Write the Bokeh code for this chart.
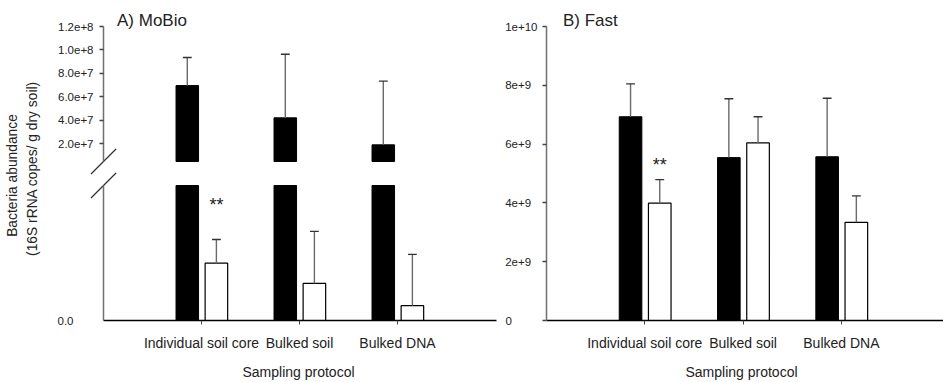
import math
from bokeh.plotting import figure
from bokeh.models import Range1d, FixedTicker, LinearAxis
from bokeh.layouts import row
from bokeh.embed import file_html
from bokeh.resources import INLINE
from bokeh.core.properties import value

# ---------------- data ----------------
categories = ["Individual soil core", "Bulked soil", "Bulked DNA"]

# A) MoBio (broken axis)
mobio_black = [6.97e7, 4.22e7, 1.92e7]
mobio_black_err = [2.39e7, 5.42e7, 5.43e7]
mobio_white = [1.70e6, 1.10e6, 0.44e6]
mobio_white_err = [0.70e6, 1.54e6, 1.52e6]
mobio_upper_ticks = [2e7, 4e7, 6e7, 8e7, 1e8, 1.2e8]
mobio_upper_labels = ["2.0e+7", "4.0e+7", "6.0e+7", "8.0e+7", "1.0e+8", "1.2e+8"]
mobio_lower_ticks = [0]
mobio_lower_labels = ["0.0"]
mobio_upper_range = (5e6, 1.2e8)   # segment above the break
mobio_lower_range = (0, 4e6)       # segment below the break

# B) Fast
fast_black = [6.93e9, 5.54e9, 5.57e9]
fast_black_err = [1.12e9, 2.00e9, 1.99e9]
fast_white = [3.99e9, 6.04e9, 3.34e9]
fast_white_err = [0.80e9, 0.89e9, 0.90e9]
fast_ticks = [0, 2e9, 4e9, 6e9, 8e9, 1e10]
fast_labels = ["0", "2e+9", "4e+9", "6e+9", "8e+9", "1e+10"]
fast_range = (0, 1e10)

significant = [True, False, False]  # "**" over the white bar

y_title = ["Bacteria abundance", "(16S rRNA copes/ g dry soil)"]
x_title = "Sampling protocol"
titles = ["A) MoBio", "B) Fast"]

# ---------------- styling ----------------
FONT = "Liberation Sans"
TXT = "#222222"
NB = "\u00a0"
OFF_BLACK, OFF_WHITE, BAR_W, CAP_W = -0.145, 0.152, 0.23, 0.09
idx = list(range(1, len(categories) + 1))
xb = [i + OFF_BLACK for i in idx]
xw = [i + OFF_WHITE for i in idx]
H = 382
TOP_PX, BASE_PX = 26, 320      # y of the axis top and of the baseline
XT_MID_PX = 371                # vertical middle of the x-axis title
TXT_KW = dict(text_font=value(FONT), text_color=TXT)


def style_y(ax, ticks, labels, standoff, tick_out=4):
    ax.ticker = FixedTicker(ticks=ticks, minor_ticks=[])
    ax.major_label_overrides = {t: l for t, l in zip(ticks, labels)}
    ax.axis_line_color = "#707070"
    ax.axis_line_width = 1.5
    ax.major_tick_line_color = "#444444"
    ax.major_tick_line_width = 1.3
    ax.major_tick_out = tick_out
    ax.major_tick_in = 0
    ax.minor_tick_line_color = None
    ax.major_label_standoff = standoff
    ax.major_label_text_font = FONT
    ax.major_label_text_font_size = "11.5px"
    ax.major_label_text_color = TXT


def style_x(ax):
    ax.ticker = FixedTicker(ticks=idx, minor_ticks=[])
    ax.major_label_overrides = {i: c for i, c in zip(idx, categories)}
    ax.axis_line_color = "black"
    ax.axis_line_width = 1.3
    ax.major_tick_line_color = "#444444"
    ax.major_tick_out = 4
    ax.major_tick_in = 0
    ax.minor_tick_line_color = None
    ax.major_label_standoff = 10
    ax.major_label_text_font = FONT
    ax.major_label_text_font_size = "14px"
    ax.major_label_text_color = TXT


def make_fig(width, xr, yr):
    p = figure(width=width, height=H, x_range=xr, y_range=yr,
               x_axis_location=None, y_axis_location=None, min_border=0,
               output_backend="svg", toolbar_location=None)
    p.grid.visible = False
    p.outline_line_color = None
    p.background_fill_color = "white"
    p.border_fill_color = "white"
    return p


def bars(p, xs, tops, bottom=0, white=False, rng="default"):
    if white:
        p.vbar(x=xs, width=BAR_W, top=tops, bottom=bottom, fill_color="white",
               line_color="black", line_width=1.2, y_range_name=rng)
    else:
        p.vbar(x=xs, width=BAR_W, top=tops, bottom=bottom, fill_color="black",
               line_color="black", line_width=1, y_range_name=rng)


def errs(p, xs, tops, es, rng="default"):
    hi = [t + e for t, e in zip(tops, es)]
    p.segment(x0=xs, y0=tops, x1=xs, y1=hi, line_color="#6a6a6a",
              line_width=1.4, y_range_name=rng)
    p.segment(x0=[x - CAP_W / 2 for x in xs], y0=hi,
              x1=[x + CAP_W / 2 for x in xs], y1=hi,
              line_color="#333333", line_width=1.4, y_range_name=rng)


def stars(p, xs, tops, es, flags, dy_px, rng="default"):
    sx = [x for x, f in zip(xs, flags) if f]
    sy = [t + e for t, e, f in zip(tops, es, flags) if f]
    p.text(x=sx, y=sy, text=["**"] * len(sx), y_offset=dy_px,
           text_align="center", text_baseline="alphabetic",
           text_font_size="18px", y_range_name=rng, **TXT_KW)


# ---------------- panel A: one full-canvas frame, two y scales around a break ----------------
A_W = 498
AX_X_PX = 103          # where the y axis sits
X_END_PX = 496         # where the x axis ends
PX_PER_X_A = 98.0
BRK_TOP_PX, BRK_BOT_PX = 161, 185

xrA = Range1d(-AX_X_PX / PX_PER_X_A, (A_W - AX_X_PX) / PX_PER_X_A)
u_lo, u_hi = mobio_upper_range
l_lo, l_hi = mobio_lower_range
u_per_px = (u_hi - u_lo) / (BRK_TOP_PX - TOP_PX)
l_per_px = (l_hi - l_lo) / (BASE_PX - BRK_BOT_PX)
yr_upper = Range1d(u_lo - (H - BRK_TOP_PX) * u_per_px, u_hi + TOP_PX * u_per_px)
yr_lower = Range1d(l_lo - (H - BASE_PX) * l_per_px, l_hi + BRK_BOT_PX * l_per_px)


def ax_(px):   # screen x -> data x (panel A)
    return (px - AX_X_PX) / PX_PER_X_A


def ay_(py):   # screen y -> upper-scale value (panel A)
    return u_hi - (py - TOP_PX) * u_per_px


pA = make_fig(A_W, xrA, yr_upper)
pA.extra_y_ranges = {"lower": yr_lower}

ax_up = LinearAxis(fixed_location=0, bounds=mobio_upper_range)
style_y(ax_up, mobio_upper_ticks, mobio_upper_labels, 6)
pA.add_layout(ax_up, "left")

ax_lo = LinearAxis(y_range_name="lower", fixed_location=0, bounds=mobio_lower_range)
style_y(ax_lo, mobio_lower_ticks, mobio_lower_labels, 30, tick_out=0)
pA.add_layout(ax_lo, "left")

axA_x = LinearAxis(y_range_name="lower", fixed_location=0, bounds=(0, ax_(X_END_PX)))
style_x(axA_x)
pA.add_layout(axA_x, "below")

# black bars: part above the break (upper scale) and part below it (lower scale)
bars(pA, xb, mobio_black, bottom=u_lo)
errs(pA, xb, mobio_black, mobio_black_err)
bars(pA, xb, [min(v, l_hi) for v in mobio_black], bottom=l_lo, rng="lower")
# white bars on the lower scale
bars(pA, xw, mobio_white, white=True, rng="lower")
errs(pA, xw, mobio_white, mobio_white_err, rng="lower")
stars(pA, xw, mobio_white, mobio_white_err, significant, -35, rng="lower")

# break marks, centred where each axis segment ends
half_px = 12.5
dx = half_px / PX_PER_X_A
pA.segment(x0=[-dx], y0=[u_lo - half_px * u_per_px], x1=[dx], y1=[u_lo + half_px * u_per_px],
           line_color="#333333", line_width=1.3)
pA.segment(x0=[-dx], y0=[l_hi - half_px * l_per_px], x1=[dx], y1=[l_hi + half_px * l_per_px],
           line_color="#333333", line_width=1.3, y_range_name="lower")

pA.text(x=[ax_(116.5)], y=[ay_(19.5)], text=[titles[0]], text_align="left",
        text_baseline="alphabetic", text_font_size="17px", **TXT_KW)
pA.text(x=[ax_(12), ax_(32)], y=[ay_(175), ay_(168)], text=y_title, angle=math.pi / 2,
        text_align="center", text_baseline="middle", text_font_size="13.8px", **TXT_KW)
pA.text(x=[ax_(298)], y=[ay_(XT_MID_PX)], text=[x_title], text_align="center",
        text_baseline="middle", text_font_size="14px", **TXT_KW)

# ---------------- panel B ----------------
B_W = 943 - A_W
BX_PX = 48             # y axis position inside panel B
PX_PER_X_B = 98.3
xrB = Range1d(-BX_PX / PX_PER_X_B, (B_W - BX_PX) / PX_PER_X_B)
b_per_px = (fast_range[1] - fast_range[0]) / (BASE_PX - TOP_PX)
yrB = Range1d(fast_range[0] - (H - BASE_PX) * b_per_px, fast_range[1] + TOP_PX * b_per_px)


def bx_(px):
    return (px - BX_PX) / PX_PER_X_B


def by_(py):
    return fast_range[1] - (py - TOP_PX) * b_per_px


pB = make_fig(B_W, xrB, yrB)
pad = {"0": 8, "2e+9": 2, "4e+9": 2, "6e+9": 2, "8e+9": 2, "1e+10": 0}
fast_labels_padded = [l + NB * pad[l] for l in fast_labels]
axB_y = LinearAxis(fixed_location=0, bounds=fast_range)
style_y(axB_y, fast_ticks, fast_labels_padded, 5)
pB.add_layout(axB_y, "left")
axB_x = LinearAxis(fixed_location=0, bounds=(0, xrB.end))
style_x(axB_x)
pB.add_layout(axB_x, "below")

bars(pB, xb, fast_black)
bars(pB, xw, fast_white, white=True)
errs(pB, xb, fast_black, fast_black_err)
errs(pB, xw, fast_white, fast_white_err)
stars(pB, xw, fast_white, fast_white_err, significant, -15)

pB.text(x=[bx_(64.5)], y=[by_(19.5)], text=[titles[1]], text_align="left",
        text_baseline="alphabetic", text_font_size="17px", **TXT_KW)
pB.text(x=[bx_(243)], y=[by_(XT_MID_PX)], text=[x_title], text_align="center",
        text_baseline="middle", text_font_size="14px", **TXT_KW)

layout = row(pA, pB, spacing=0)
open("out.html", "w").write(file_html(layout, INLINE))
